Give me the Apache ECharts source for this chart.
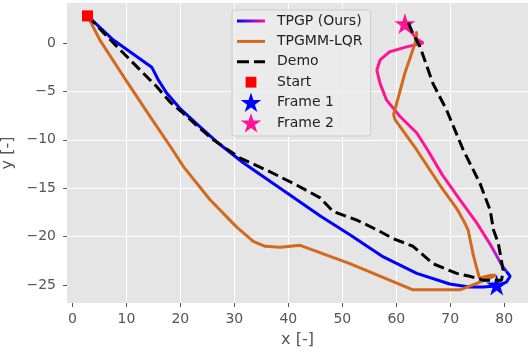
<!DOCTYPE html>
<html>
<head>
<meta charset="utf-8">
<script src="https://cdn.jsdelivr.net/npm/echarts@6/dist/echarts.min.js"></script>
<style>html,body{margin:0;padding:0;background:#fff}#c{width:528px;height:353px}</style>
</head>
<body>
<div id="c"></div>
<script>
// ---- data ----
const tpgpBlueX = [2.8, 7.6, 14.7, 15.9, 17.5, 19.9, 23.6, 26.7, 31.7, 40.3, 46.0, 51.4, 57.6, 63.8, 69.9, 73.5, 76.1, 78.5, 80.4, 81.1, 80.4];
const tpgpBlueY = [2.8, 0.3, -2.5, -3.8, -5.2, -6.75, -8.65, -10.2, -12.4, -15.7, -17.9, -19.8, -22.1, -23.8, -24.9, -25.2, -25.2, -25.1, -24.7, -24.1, -23.6];
const tpgpPinkX = [80.4, 79.6, 77.4, 74.8, 71.8, 68.5, 65.8, 63.8, 60.7, 58.2, 57.0, 56.4, 57.0, 58.8, 61.9, 65.0, 63.8, 61.6];
const tpgpPinkY = [-23.6, -23.0, -20.8, -18.5, -16.2, -13.6, -11.05, -9.3, -7.6, -5.9, -4.2, -2.8, -1.75, -0.9, -0.4, 0.0, 0.4, 2.0];
const lqrX = [2.8, 5.1, 10.1, 14.4, 18.4, 20.6, 25.5, 30.4, 33.5, 35.7, 38.5, 42.2, 51.4, 63.1, 71.8, 75.5, 77.2, 78.4, 77.5, 75.4, 74.3, 73.3, 72.7, 71.2, 68.1, 66.2, 63.8, 59.8, 59.5, 61.6, 63.5, 63.8, 63.6];
const lqrY = [2.8, 0.3, -4.0, -7.6, -10.9, -12.8, -16.2, -19.0, -20.5, -21.0, -21.1, -20.9, -22.8, -25.5, -25.5, -24.7, -24.3, -24.0, -24.0, -24.3, -22.0, -19.3, -18.6, -17.1, -14.7, -13.1, -11.05, -7.95, -7.4, -3.1, 0.0, 1.0, 1.2];
const demoX = [2.8, 7.6, 10.7, 13.1, 15.6, 18.1, 20.6, 23.6, 26.1, 31.1, 36.6, 41.6, 45.9, 48.3, 52.7, 56.4, 59.4, 63.1, 66.8, 71.2, 73.6, 76.1, 79.5, 79.8, 78.9, 78.0, 77.4, 75.5, 72.4, 69.3, 66.8, 64.4, 62.9, 61.9];
const demoY = [2.8, 0.0, -1.75, -3.1, -4.5, -6.1, -7.3, -8.8, -10.0, -11.9, -13.3, -14.7, -16.0, -17.4, -18.3, -19.3, -20.2, -21.0, -22.8, -23.8, -24.1, -24.5, -24.5, -23.5, -20.7, -19.3, -17.3, -14.5, -11.05, -6.9, -4.2, -0.4, 1.2, 2.55];
const startPt = [2.8, 2.8];
const frame1Pt = [78.6, -25.0];
const frame2Pt = [61.6, 2.0];
const xTicks = [0, 10, 20, 30, 40, 50, 60, 70, 80];
const yTicks = [-25, -20, -15, -10, -5, 0];
const legendNames = ['TPGP (Ours)', 'TPGMM-LQR', 'Demo', 'Start', 'Frame 1', 'Frame 2'];

const zip = (a, b) => a.map((v, i) => [v, b[i]]);

// star path
function starPath(cx, cy, R) {
  const r = R * 0.382;
  let d = '';
  for (let i = 0; i < 10; i++) {
    const ang = -Math.PI / 2 + i * Math.PI / 5;
    const rr = i % 2 === 0 ? R : r;
    d += (i === 0 ? 'M' : 'L') + (cx + rr * Math.cos(ang)).toFixed(2) + ',' + (cy + rr * Math.sin(ang)).toFixed(2);
  }
  return d + 'Z';
}
const BOX = 'M0,0M28,20';
const iconLine = 'path://' + BOX + 'M0,8.5h28v3h-28z';
const iconDash = 'path://' + BOX + 'M0,8.5h12v3h-12zM17,8.5h11v3h-11z';
const iconSquare = 'path://' + BOX + 'M8.6,4.6h10.8v10.8h-10.8z';
const iconStar = 'path://' + BOX + starPath(14, 10.6, 11);
const starSym = 'path://' + starPath(0, 0, 10);

const BLUE = '#0000ff', PINK = '#ff1493', ORANGE = '#d2691e';
const chart = echarts.init(document.getElementById('c'), null, {renderer: 'canvas'});
const fmt = v => String(v).replace('-', '\u2212');
const axisCommon = {
  axisLine: {show: false, onZero: false},
  axisTick: {show: true, length: 4, lineStyle: {color: '#555555', width: 1}},
  axisLabel: {color: '#555555', fontSize: 14, fontFamily: 'DejaVu Sans', formatter: fmt},
  splitLine: {show: true, lineStyle: {color: '#ffffff', width: 1}},
  nameTextStyle: {color: '#555555', fontSize: 16, fontFamily: 'DejaVu Sans'},
  nameLocation: 'middle'
};
const gradPink = new echarts.graphic.LinearGradient(0, 0, 0, 1, [
  {offset: 0, color: PINK}, {offset: 0.84, color: PINK},
  {offset: 0.93, color: '#b01ccc'}, {offset: 1, color: '#3a10f5'}
]);
const gradLegend = new echarts.graphic.LinearGradient(0, 0, 1, 0, [
  {offset: 0, color: BLUE}, {offset: 1, color: PINK}
]);
const lineSeries = (name, data, color, z, type) => ({
  name, type: 'line', data, showSymbol: false, symbol: 'none', smooth: false, z,
  lineStyle: {color, width: 3, type: type || 'solid'}, itemStyle: {color}, animation: false
});
const demoLine = lineSeries(legendNames[2], zip(demoX, demoY), '#000000', 6, [11, 5]);
demoLine.lineStyle.cap = 'butt';

chart.setOption({
  animation: false,
  backgroundColor: '#ffffff',
  grid: {left: 67, top: 3, right: 0, bottom: 50, show: true, backgroundColor: '#e5e5e5', borderWidth: 0,
         containLabel: false, outerBoundsMode: 'none'},
  xAxis: Object.assign({}, axisCommon, {
    type: 'value', min: -1.0, max: 84.4, name: 'x [-]', nameGap: 29, position: 'bottom',
    axisTick: Object.assign({}, axisCommon.axisTick, {customValues: xTicks}),
    axisLabel: Object.assign({}, axisCommon.axisLabel, {customValues: xTicks, margin: 9}),
    splitLine: Object.assign({}, axisCommon.splitLine, {showMinLine: false, showMaxLine: false})
  }),
  yAxis: Object.assign({}, axisCommon, {
    type: 'value', min: -26.86, max: 4.13, name: 'y [-]', nameGap: 44, position: 'left',
    axisTick: Object.assign({}, axisCommon.axisTick, {customValues: yTicks}),
    axisLabel: Object.assign({}, axisCommon.axisLabel, {customValues: yTicks, margin: 11}),
    splitLine: Object.assign({}, axisCommon.splitLine, {showMinLine: false, showMaxLine: false})
  }),
  legend: {
    left: 232, top: 10, orient: 'vertical',
    padding: [1, 8, 3, 5], itemGap: 0.4, itemWidth: 28, itemHeight: 20,
    backgroundColor: 'rgba(236,236,236,0.85)', borderColor: '#cccccc', borderWidth: 1, borderRadius: 3,
    textStyle: {color: '#222222', fontSize: 14, fontFamily: 'DejaVu Sans', padding: [0, 0, 0, 7]},
    selectedMode: false,
    data: [
      {name: legendNames[0], icon: iconLine, itemStyle: {color: gradLegend, borderWidth: 0}},
      {name: legendNames[1], icon: iconLine, itemStyle: {color: ORANGE, borderWidth: 0}},
      {name: legendNames[2], icon: iconDash, itemStyle: {color: '#000000', borderWidth: 0}},
      {name: legendNames[3], icon: iconSquare, itemStyle: {color: '#ff0000', borderWidth: 0}},
      {name: legendNames[4], icon: iconStar, itemStyle: {color: BLUE, borderWidth: 0}},
      {name: legendNames[5], icon: iconStar, itemStyle: {color: PINK, borderWidth: 0}}
    ]
  },
  series: [
    lineSeries(legendNames[0], zip(tpgpBlueX, tpgpBlueY), BLUE, 3),
    Object.assign(lineSeries(legendNames[0], zip(tpgpPinkX, tpgpPinkY), PINK, 3), {lineStyle: {color: gradPink, width: 3}}),
    lineSeries(legendNames[1], zip(lqrX, lqrY), ORANGE, 4),
    demoLine,
    {name: legendNames[3], type: 'scatter', data: [startPt], symbol: 'rect', symbolSize: 11, itemStyle: {color: '#ff0000', opacity: 1}, z: 7},
    {name: legendNames[4], type: 'scatter', data: [frame1Pt], symbol: starSym, symbolSize: 21, itemStyle: {color: BLUE, opacity: 1}, z: 5},
    {name: legendNames[5], type: 'scatter', data: [frame2Pt], symbol: starSym, symbolSize: 21, itemStyle: {color: PINK, opacity: 1}, z: 5}
  ]
});
</script>
</body>
</html>
